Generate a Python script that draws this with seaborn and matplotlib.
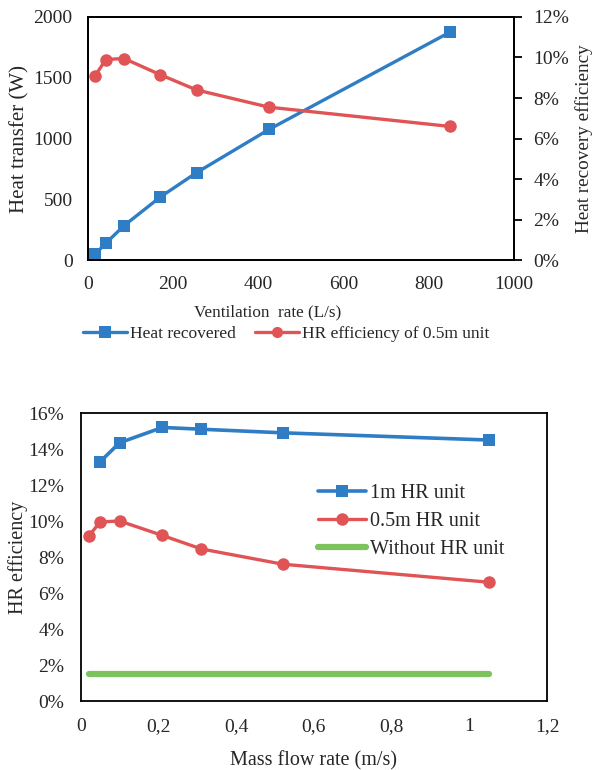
import matplotlib
matplotlib.use("Agg")
import matplotlib.pyplot as plt
import matplotlib.ticker as mticker
from matplotlib.lines import Line2D
import seaborn as sns

# top chart data
vent_rate = [17, 42, 85, 170, 255, 425, 850]          # L/s
heat_recovered = [50, 140, 285, 520, 720, 1075, 1875]  # W
hr_eff_05 = [9.1, 9.9, 9.95, 9.15, 8.4, 7.55, 6.6]     # %

# bottom chart data
mass_flow = [0.02, 0.05, 0.10, 0.21, 0.31, 0.52, 1.05]
mass_flow_1m = [0.05, 0.10, 0.21, 0.31, 0.52, 1.05]
eff_1m = [13.3, 14.35, 15.2, 15.1, 14.9, 14.5]
eff_05m = [9.15, 9.95, 10.0, 9.2, 8.45, 7.6, 6.6]
eff_none = [1.5] * 7

BLUE = "#2E7DC5"
RED = "#E05456"
GREEN = "#7DC35D"
TXT = "#262626"

sns.set_theme(style="white")
plt.rcParams["font.family"] = ["Liberation Serif", "DejaVu Serif"]
plt.rcParams["font.size"] = 13
plt.rcParams["text.color"] = TXT
plt.rcParams["axes.labelcolor"] = TXT
plt.rcParams["xtick.color"] = TXT
plt.rcParams["ytick.color"] = TXT
plt.rcParams["xtick.labelsize"] = 14
plt.rcParams["ytick.labelsize"] = 14

pct = mticker.FuncFormatter(lambda v, p: f"{v:.0f}%")

fig = plt.figure(figsize=(5.94, 7.70), dpi=100)

# ---- top chart
ax1 = fig.add_axes([0.148, 0.662, 0.717, 0.316])
ax2 = ax1.twinx()
sns.lineplot(x=vent_rate, y=heat_recovered, ax=ax1, color=BLUE, marker="s",
             markersize=8.5, markeredgewidth=0, linewidth=2.4)
sns.lineplot(x=vent_rate, y=hr_eff_05, ax=ax2, color=RED, marker="o",
             markersize=9, markeredgewidth=0, linewidth=2.4)
ax1.set_xlim(0, 1000)
ax1.set_ylim(0, 2000)
ax1.set_xticks(range(0, 1001, 200))
ax1.set_yticks(range(0, 2001, 500))
ax2.set_ylim(0, 12)
ax2.set_yticks(range(0, 13, 2))
ax2.yaxis.set_major_formatter(pct)
ax1.set_xlabel("Ventilation  rate (L/s)", fontsize=12.3)
ax1.xaxis.set_label_coords(0.423, -0.18)
ax1.set_ylabel("Heat transfer (W)", labelpad=3, fontsize=15)
ax2.set_ylabel("Heat recovery efficiency", labelpad=4, fontsize=13.8)
ax1.tick_params(axis="both", length=0, pad=11)
ax2.tick_params(axis="y", length=6, width=1.3, direction="out", pad=8, color="black")
for a in (ax1, ax2):
    for s in a.spines.values():
        s.set_color("black")
        s.set_linewidth(1.3)

handles = [
    Line2D([], [], color=BLUE, marker="s", markersize=8, lw=2.4, markeredgewidth=0),
    Line2D([], [], color=RED, marker="o", markersize=8, lw=2.4, markeredgewidth=0),
]
fig.legend(handles, ["Heat recovered", "HR efficiency of 0.5m unit"],
           loc="center", bbox_to_anchor=(0.482, 0.566), ncol=2, frameon=False,
           handlelength=2.5, handletextpad=0.2, columnspacing=1.1, fontsize=12.5)

# ---- bottom chart
ax3 = fig.add_axes([0.136, 0.0896, 0.785, 0.374])
sns.lineplot(x=mass_flow_1m, y=eff_1m, ax=ax3, color=BLUE, marker="s",
             markersize=8.5, markeredgewidth=0, linewidth=2.6, label="1m HR unit")
sns.lineplot(x=mass_flow, y=eff_05m, ax=ax3, color=RED, marker="o",
             markersize=9, markeredgewidth=0, linewidth=2.4, label="0.5m HR unit")
sns.lineplot(x=mass_flow, y=eff_none, ax=ax3, color=GREEN, linewidth=4.5,
             solid_capstyle="round", label="Without HR unit")
ax3.set_xlim(0, 1.2)
ax3.set_ylim(0, 16)
ax3.set_xticks([0, 0.2, 0.4, 0.6, 0.8, 1.0, 1.2])
ax3.set_xticklabels(["0", "0,2", "0,4", "0,6", "0,8", "1", "1,2"])
ax3.set_yticks(range(0, 17, 2))
ax3.yaxis.set_major_formatter(pct)
ax3.set_xlabel("Mass flow rate (m/s)", labelpad=12, fontsize=14.5)
ax3.set_ylabel("HR efficiency", labelpad=0, fontsize=14.5)
ax3.tick_params(axis="both", length=0, pad=12)
for s in ax3.spines.values():
    s.set_color("black")
    s.set_linewidth(1.3)
ax3.legend(loc="upper left", bbox_to_anchor=(0.469, 0.817), frameon=False,
           handlelength=2.4, handletextpad=0.2, labelspacing=0.45, fontsize=14.5)

fig.savefig("out.png", dpi=100)
